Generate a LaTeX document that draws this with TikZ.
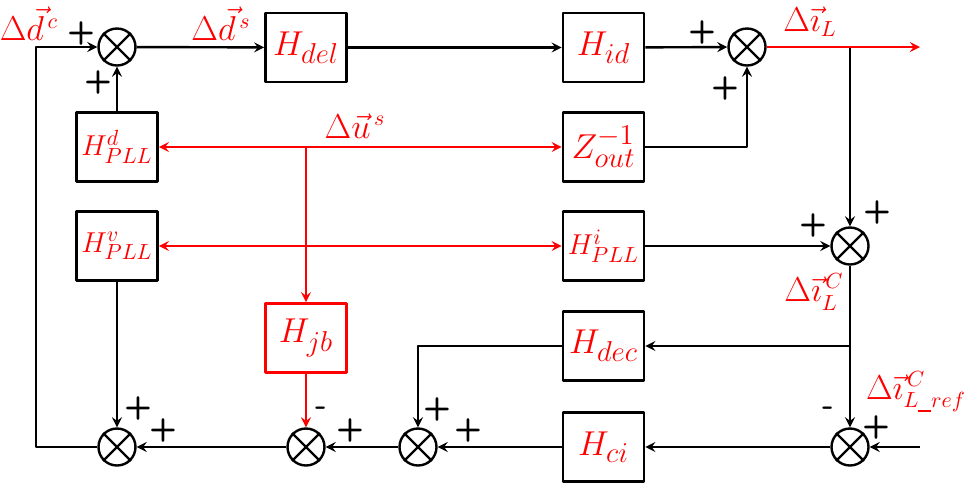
\documentclass[tikz,border=0pt]{standalone}
\begin{document}
\begin{tikzpicture}[x=0.5pt,y=-0.5pt,>=stealth,line width=1.2pt,line join=round,
	block/.style={draw,line width=1.3pt,minimum width=40.5pt,minimum height=34.5pt,inner sep=0pt,text=red,font=\fontsize{19}{22}\selectfont},
	pll/.style={block,font=\fontsize{15}{18}\selectfont},
	sumnode/.style={draw,circle,minimum size=18.5pt,inner sep=0pt},
	lbl/.style={text=red,font=\fontsize{16}{19}\selectfont,inner sep=0pt},
	sgn/.style={font=\fontsize{16}{18}\selectfont\sffamily\bfseries,inner sep=0pt}]
	\useasboundingbox (0,0) rectangle (969,484);
	% summing junctions
	\node[sumnode] (s1) at (117,47) {};
	\node[sumnode] (s2) at (747,47) {};
	\node[sumnode] (s7) at (850,246) {};
	\node[sumnode] (s3) at (117,447) {};
	\node[sumnode] (s4) at (306,447) {};
	\node[sumnode] (s5) at (418,447) {};
	\node[sumnode] (s6) at (850,447) {};
	\foreach \s in {s1,s2,s3,s4,s5,s6,s7}
		\draw (\s.north west)--(\s.south east) (\s.north east)--(\s.south west);
	% blocks
	\node[block] (del) at (306,47.5) {$H_{del}$};
	\node[block] (hid) at (603.5,47.5) {$H_{id}$};
	\node[pll] (hpd) at (117,147) {$H^{d}_{PLL}$};
	\node[block] (zout) at (603.5,147) {$Z^{-1}_{out}$};
	\node[pll] (hpv) at (117,246) {$H^{v}_{PLL}$};
	\node[pll] (hpi) at (603.5,246) {$H^{i}_{PLL}$};
	\node[block,draw=red] (hjb) at (306,338) {$H_{jb}$};
	\node[block] (dec) at (603.5,346) {$H_{dec}$};
	\node[block] (hci) at (603.5,447) {$H_{ci}$};
	% points
	\coordinate (c1) at (36,47);
	\coordinate (b1) at (850,47);
	\coordinate (b2) at (850,346);
	\coordinate (out) at (920,47);
	\coordinate (ref) at (920,447);
	\coordinate (u1) at (306,147);
	\coordinate (u2) at (306,246);
	% black signal paths
	\draw[->] (s1) -- (del);
	\draw[->] (del) -- (hid);
	\draw[->] (hid) -- (s2);
	\draw[->] (zout.east) -| (s2.south);
	\draw[->] (hpd) -- (s1);
	\draw[->] (b1) -- (s7.north);
	\draw[->] (hpi) -- (s7);
	\draw[->] (s7.south) -- (s6.north);
	\draw[->] (b2) -- (dec.east);
	\draw[->] (ref) -- (s6);
	\draw[->] (s6) -- (hci);
	\draw[->] (hci) -- (s5);
	\draw[->] (dec.west) -| (s5.north);
	\draw[->] (s5) -- (s4);
	\draw[->] (s4) -- (s3);
	\draw[->] (hpv) -- (s3);
	\draw[->] (s3.west) -| (c1) -- (s1.west);
	% red paths
	\draw[->,red] (s2.east) -- (out);
	\draw[->,red] (u1) -- (hpd);
	\draw[->,red] (u1) -- (zout);
	\draw[->,red] (u1) -- (hjb);
	\draw[->,red] (u2) -- (hpv);
	\draw[->,red] (u2) -- (hpi);
	\draw[->,red] (hjb) -- (s4);
	% labels
	\node[lbl] (ldc) at (29,24) {$\Delta{\vec{d}}^{\,c}$};
	\node[lbl] (lds) at (221,24) {$\Delta{\vec{d}}^{\,s}$};
	\node[lbl] (lil) at (810,22) {$\Delta\vec{\imath}_{L}$};
	\node[lbl] (lus) at (355,126) {$\Delta{\vec{u}}^{\,s}$};
	\node[lbl] (lic) at (814,292) {$\Delta\vec{\imath}^{\,C}_{L}$};
	\node[lbl] (lir) at (916,392) {$\Delta\vec{\imath}^{\,C}_{L\rule[-0.12em]{0.4em}{0.06em}ref}$};
	% signs
	\node[sgn] at (81,33) {+};
	\node[sgn] at (98,82) {+};
	\node[sgn] at (702,32) {+};
	\node[sgn] at (725,88) {+};
	\node[sgn] at (813,225) {+};
	\node[sgn] at (877,212) {+};
	\node[sgn] at (828,411) {-};
	\node[sgn] at (876,427) {+};
	\node[sgn] at (437,409) {+};
	\node[sgn] at (468,430) {+};
	\node[sgn] at (321,411) {-};
	\node[sgn] at (350,430) {+};
	\node[sgn] at (138,408) {+};
	\node[sgn] at (163,430) {+};
\end{tikzpicture}
\end{document}
